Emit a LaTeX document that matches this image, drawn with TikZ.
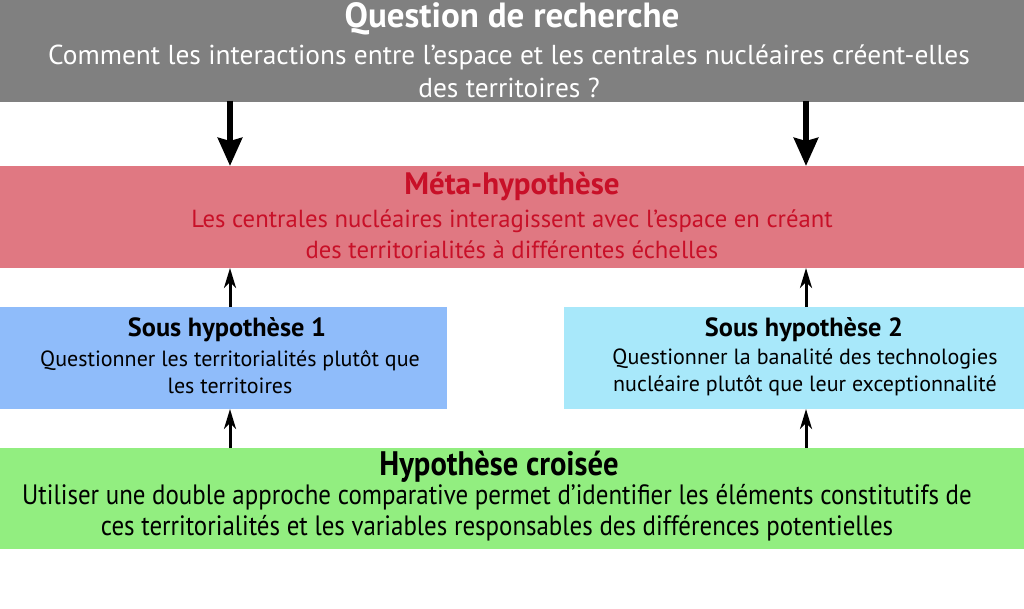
\documentclass[tikz,border=0pt]{standalone}
\usepackage{fontspec}
\setmainfont{PT Sans}
\newfontfamily\condfont[FakeStretch=0.89]{PT Sans}
\newfontfamily\condtitlefont[FakeStretch=0.9]{PT Sans}
\usetikzlibrary{arrows.meta}
\definecolor{cgray}{RGB}{128,128,128}
\definecolor{cpink}{RGB}{224,120,130}
\definecolor{cred}{RGB}{200,16,40}
\definecolor{cblue}{RGB}{143,188,250}
\definecolor{ccyan}{RGB}{168,232,250}
\definecolor{cgreen}{RGB}{146,238,128}
\tikzset{
  band/.style={inner sep=0pt, outer sep=0pt, draw=none, minimum height=102pt},
  txt/.style={align=center, inner sep=0pt},
  bigarrow/.style={line width=6pt, -{Stealth[width=24pt,length=28pt,inset=3pt]}},
  smallarrow/.style={line width=3pt, -{Stealth[width=12pt,length=20pt,inset=6pt]}},
}
\begin{document}
\begin{tikzpicture}[x=1pt,y=-1pt]
\useasboundingbox (0,0) rectangle (1024,609);
% bands
\node[band, fill=cgray, minimum width=1024pt, anchor=north west] (q) at (0,0) {};
\node[band, fill=cpink, minimum width=1024pt, anchor=north west] (m) at (0,166) {};
\node[band, fill=cblue, minimum width=447pt, anchor=north west] (s1) at (0,307) {};
\node[band, fill=ccyan, minimum width=460pt, anchor=north west] (s2) at (564,307) {};
\node[band, fill=cgreen, minimum width=1024pt, minimum height=101pt, anchor=north west] (h) at (0,448) {};
% texts
\node[txt, text=white, font=\fontsize{35}{33}\selectfont\bfseries] (qt) at (512,19) {Question de recherche};
\node[txt, text=white, font=\fontsize{27.4}{33}\selectfont] (qb) at (509,71) {Comment les interactions entre l’espace et les centrales nucléaires créent-elles\\des territoires ?};
\node[txt, text=cred, font=\fontsize{31}{31}\selectfont\bfseries] (mt) at (512,187) {Méta-hypothèse};
\node[txt, text=cred, font=\fontsize{24.7}{31}\selectfont] (mb) at (512,234) {Les centrales nucléaires interagissent avec l’espace en créant\\des territorialités à différentes échelles};
\node[txt, font=\fontsize{26.3}{27}\selectfont\bfseries] (s1t) at (227,330) {Sous hypothèse 1};
\node[txt, font=\fontsize{22}{27}\selectfont] (s1b) at (230,372) {Questionner les territorialités plutôt que\\les territoires};
\node[txt, font=\fontsize{26.3}{27}\selectfont\bfseries] (s2t) at (804,330) {Sous hypothèse 2};
\node[txt, font=\fontsize{22}{27}\selectfont] (s2b) at (805,372) {Questionner la banalité des technologies\\nucléaire plutôt que leur exceptionnalité};
\node[txt, font=\condtitlefont\fontsize{34}{31}\selectfont\bfseries] (ht) at (499,467) {Hypothèse croisée};
\node[txt, font=\condfont\fontsize{28}{31}\selectfont] (hb) at (497,513) {Utiliser une double approche comparative permet d’identifier les éléments constitutifs de\\ces territorialités et les variables responsables des différences potentielles};
% arrow anchors
\coordinate (a1) at (230,101);
\coordinate (a2) at (806,101);
\coordinate (b1) at (230,166);
\coordinate (b2) at (806,166);
\coordinate (c1) at (230,307);
\coordinate (c2) at (806,307);
\coordinate (d1) at (230,268);
\coordinate (d2) at (806,268);
\coordinate (e1) at (230,448);
\coordinate (e2) at (806,448);
\coordinate (f1) at (230,409);
\coordinate (f2) at (806,409);
\draw[bigarrow] (a1) -- (b1);
\draw[bigarrow] (a2) -- (b2);
\draw[smallarrow] (c1) -- (d1);
\draw[smallarrow] (c2) -- (d2);
\draw[smallarrow] (e1) -- (f1);
\draw[smallarrow] (e2) -- (f2);
\end{tikzpicture}
\end{document}
